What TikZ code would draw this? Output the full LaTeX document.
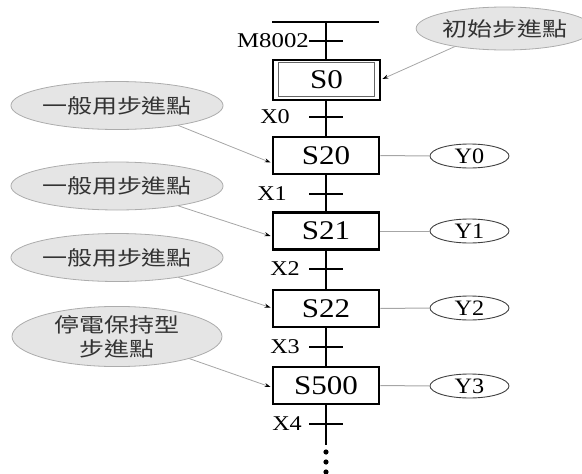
\documentclass[tikz,border=0pt]{standalone}
\usepackage{fontspec}
\usepackage{graphicx}
\setmainfont{Liberation Serif}
\newfontfamily\cjk{Noto Sans CJK TC}
\usetikzlibrary{shapes.geometric,arrows.meta,calc}
\tikzset{
  stepbox/.style={draw,line width=2.8pt,fill=white,minimum width=106pt,minimum height=37pt,inner sep=0pt,font=\fontsize{27}{27}\selectfont},
  outell/.style={ellipse,draw=black!75,line width=0.9pt,fill=white,minimum width=79pt,minimum height=24pt,inner sep=0pt,font=\fontsize{22}{22}\selectfont},
  callout/.style={ellipse,draw=gray!65,fill=gray!20,line width=0.8pt,minimum width=210pt,minimum height=48pt,inner sep=0pt,text=black!80,font=\cjk\fontsize{20}{24}\selectfont,align=center},
  note/.style={draw=gray!70,line width=0.8pt,-{Stealth[length=6pt,width=4pt,black]}},
  link/.style={draw=gray!70,line width=1pt},
  rail/.style={line width=2.6pt},
  tick/.style={minimum width=34pt,minimum height=0pt,inner sep=0pt,outer sep=0pt},
  tlabel/.style={font=\fontsize{21}{21}\selectfont,inner sep=0pt,anchor=east},
  dot/.style={circle,fill=black,minimum size=5.2pt,inner sep=0pt},
}
\begin{document}
\begin{tikzpicture}[x=1pt,y=-1pt]
\useasboundingbox (0,0) rectangle (582,474);
% rail
\coordinate (barL) at (272,22);
\coordinate (barR) at (379,22);
\coordinate (top) at (326,22);
\coordinate (bot) at (326,445);
\draw[rail] (barL) -- (barR);
\draw[rail] (top) -- (bot);
% transitions
\node[tick] (tm) at (326,41) {};
\node[tick] (t0) at (326,117) {};
\node[tick] (t1) at (326,194) {};
\node[tick] (t2) at (326,269) {};
\node[tick] (t3) at (326,347) {};
\node[tick] (t4) at (326,424) {};
\foreach \t in {tm,t0,t1,t2,t3,t4} \draw[rail] (\t.west) -- (\t.east);
\node[tlabel] (lm) at (309,41) {\scalebox{1.18}[1]{M8002}};
\node[tlabel] (l0) at (290,117) {\scalebox{1.15}[1]{X0}};
\node[tlabel] (l1) at (287,194) {\scalebox{1.15}[1]{X1}};
\node[tlabel] (l2) at (300,269) {\scalebox{1.15}[1]{X2}};
\node[tlabel] (l3) at (300,347) {\scalebox{1.15}[1]{X3}};
\node[tlabel] (l4) at (302,424) {\scalebox{1.15}[1]{X4}};
% steps
\node[stepbox,minimum width=107pt,minimum height=40pt] (s0) at (326.5,80) {\scalebox{1.15}[1]{S0}};
\draw[line width=1.2pt,black!60] ($(s0.north west)+(7,4)$) rectangle ($(s0.south east)+(-7,-5)$);
\node[stepbox] (s20) at (326,155.5) {\scalebox{1.15}[1]{S20}};
\node[stepbox] (s21) at (326,231) {\scalebox{1.15}[1]{S21}};
\node[stepbox] (s22) at (326,308.5) {\scalebox{1.15}[1]{S22}};
\node[stepbox] (s500) at (326,385.5) {\scalebox{1.15}[1]{S500}};
% outputs
\node[outell] (y0) at (469.5,156) {\scalebox{1.1}[1]{Y0}};
\node[outell] (y1) at (469.5,231) {\scalebox{1.1}[1]{Y1}};
\node[outell] (y2) at (469.5,308) {\scalebox{1.1}[1]{Y2}};
\node[outell] (y3) at (469.5,386) {\scalebox{1.1}[1]{Y3}};
\draw[link] (s20.east) -- (y0.west);
\draw[link] (s21.east) -- (y1.west);
\draw[link] (s22.east) -- (y2.west);
\draw[link] (s500.east) -- (y3.west);
% dots
\node[dot] (d1) at (326,452) {};
\node[dot] (d2) at (326,462) {};
\node[dot] (d3) at (326,472) {};
% callouts
\node[callout,minimum width=147pt,minimum height=43pt] (c0) at (504.5,28.5) {\scalebox{1.25}[1]{初始步進點}};
\node[callout] (c1) at (117,105.5) {\scalebox{1.25}[1]{一般用步進點}};
\node[callout] (c2) at (117,186) {\scalebox{1.25}[1]{一般用步進點}};
\node[callout] (c3) at (117,257.5) {\scalebox{1.25}[1]{一般用步進點}};
\node[callout] (c4) at (117,336.5) {\scalebox{1.25}[1]{停電保持型}\\\scalebox{1.25}[1]{步進點}};
\draw[note] (c0.200) -- ($(s0.east)+(1,-1)$);
\draw[note] (c1.-18) -- ($(s20.west)+(-1,7)$);
\draw[note] (c2.-18) -- ($(s21.west)+(-1,5)$);
\draw[note] (c3.-18) -- ($(s22.west)+(-1,-1)$);
\draw[note] (c4.-17) -- ($(s500.west)+(-1,1.5)$);
\end{tikzpicture}
\end{document}
